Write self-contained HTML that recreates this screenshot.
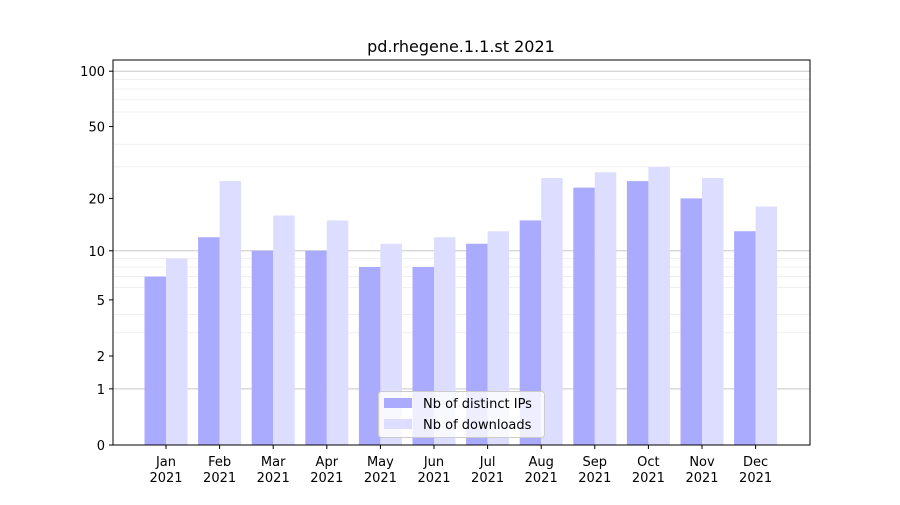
<!DOCTYPE html>
<html><head><meta charset="utf-8"><style>
body{margin:0;background:#fff;font-family:"Liberation Sans","DejaVu Sans",sans-serif}
svg text{font-family:"DejaVu Sans","Liberation Sans",sans-serif}
</style></head><body>
<svg id="chart" width="900" height="500" xmlns="http://www.w3.org/2000/svg">
<rect width="900" height="500" fill="#fff"/>
<text x="461" y="52" text-anchor="middle" font-size="16">pd.rhegene.1.1.st 2021</text>
<g id="grid"></g><g id="bars"></g><g id="axes"></g>
</svg>
<script>
const months=["Jan","Feb","Mar","Apr","May","Jun","Jul","Aug","Sep","Oct","Nov","Dec"];
const ips=[7,12,10,10,8,8,11,15,23,25,20,13];
const downloads=[9,25,16,15,11,12,13,26,28,30,26,18];
const yTicks=[0,1,2,5,10,20,50,100];
const minorTicks=[3,4,6,7,8,9,30,40,60,70,80,90];
const NS="http://www.w3.org/2000/svg";
const L=113,R=810,T=60,B=445;
function y(v){return B-186.5*Math.log10(1+v);}
const step=53.6,x0=166;
function xc(i){return x0+i*step;}
function mk(tag,attrs,parent){const e=document.createElementNS(NS,tag);for(const k in attrs)e.setAttribute(k,attrs[k]);parent.appendChild(e);return e;}
const grid=document.getElementById('grid'),bars=document.getElementById('bars'),axes=document.getElementById('axes');
minorTicks.forEach(v=>{const l=mk('line',{x1:L,x2:R,y1:y(v),y2:y(v),stroke:'#ececec','stroke-width':0.8},grid);

});
[1,10,100].forEach(v=>{const l=mk('line',{x1:L,x2:R,y1:y(v),y2:y(v),stroke:'#c8c8c8','stroke-width':1},grid);

});
const bw=21.5;
months.forEach((m,i)=>{
 const a=mk('rect',{x:xc(i)-bw,y:y(ips[i]),width:bw,height:B-y(ips[i]),fill:'#aaaaff'},bars);
 
 
 const b=mk('rect',{x:xc(i),y:y(downloads[i]),width:bw,height:B-y(downloads[i]),fill:'#ddddff'},bars);
 
 
 mk('line',{x1:xc(i),x2:xc(i),y1:B,y2:B+4,stroke:'#000'},axes);
 const t=mk('text',{x:xc(i),y:B+21,'text-anchor':'middle','font-size':13},axes);
 
 
 t.innerHTML='<tspan x="'+xc(i)+'">'+m+'</tspan><tspan x="'+xc(i)+'" dy="16">2021</tspan>';
});
yTicks.forEach(v=>{
 mk('line',{x1:L-4,x2:L,y1:y(v),y2:y(v),stroke:'#000'},axes);
 const t=mk('text',{x:L-8,y:y(v)+5,'text-anchor':'end','font-size':13},axes);
 
 
 t.textContent=v;
});
const frame=mk('rect',{x:L,y:T,width:R-L,height:B-T,fill:'none',stroke:'#000','stroke-width':1},axes);


const lg=mk('g',{},axes);


mk('rect',{x:378.5,y:391.5,width:166,height:46,rx:3,fill:'#fff','fill-opacity':0.8,stroke:'#ccc'},lg);
mk('rect',{x:384,y:398,width:28,height:10,fill:'#aaaaff'},lg);
mk('rect',{x:384,y:419,width:28,height:10,fill:'#ddddff'},lg);
const t1=mk('text',{x:423,y:408,'font-size':13},lg);t1.textContent='Nb of distinct IPs';


const t2=mk('text',{x:423,y:429,'font-size':13},lg);t2.textContent='Nb of downloads';


</script>
</body></html>
